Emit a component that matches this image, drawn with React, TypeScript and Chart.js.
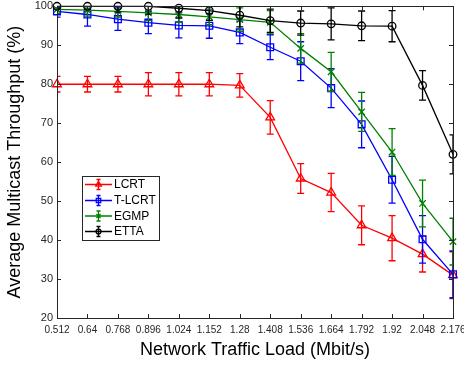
import React, { useEffect, useRef } from "react";
import { Chart, registerables } from "chart.js";

Chart.register(...registerables);

const FONT = "'Liberation Sans', Arial, Helvetica, sans-serif";

const loads = [0.512, 0.64, 0.768, 0.896, 1.024, 1.152, 1.28, 1.408, 1.536, 1.664, 1.792, 1.92, 2.048, 2.176];
const xTickLabels = ["0.512", "0.64", "0.768", "0.896", "1.024", "1.152", "1.28", "1.408", "1.536", "1.664", "1.792", "1.92", "2.048", "2.176"];
const yTickValues = [20, 30, 40, 50, 60, 70, 80, 90, 100];

const lcrt = [80.0, 80.0, 80.0, 80.0, 80.0, 80.0, 79.7, 71.5, 55.8, 52.2, 43.8, 40.5, 36.4, 31.0];
const lcrtErr = [2.0, 2.0, 2.0, 3.0, 3.0, 3.0, 3.0, 4.3, 3.8, 4.9, 5.0, 5.8, 4.6, 6.0];
const tlcrt = [98.7, 97.9, 96.7, 95.8, 95.1, 95.0, 93.3, 89.5, 85.9, 79.0, 69.7, 55.5, 40.2, 31.2];
const tlcrtErr = [1.5, 3.0, 2.9, 2.8, 3.2, 3.2, 2.9, 3.2, 5.0, 5.0, 6.0, 6.0, 6.1, 6.0];
const egmp = [99.2, 99.0, 98.7, 98.3, 97.9, 97.3, 96.6, 95.9, 89.2, 83.2, 72.9, 62.6, 49.4, 39.6];
const egmpErr = [1.0, 1.5, 1.5, 2.0, 2.0, 2.0, 3.0, 3.0, 3.8, 5.0, 5.0, 6.0, 6.0, 6.0];
const etta = [100, 100, 100, 100, 99.5, 98.9, 97.7, 96.3, 95.7, 95.5, 95.0, 94.9, 79.7, 62.0];
const ettaErr = [0.5, 0.8, 1.5, 2.0, 2.5, 2.5, 3.0, 3.0, 3.1, 4.1, 3.8, 4.0, 3.8, 5.0];

const seriesNames = ["LCRT", "T-LCRT", "EGMP", "ETTA"];
const seriesColors = ["#ff0000", "#0000ff", "#008000", "#000000"];
const seriesStyles = ["triangle", "rect", "crossRot", "circle"];
const seriesRadius = [5, 4.8, 4.5, 3.8];
const seriesValues = [lcrt, tlcrt, egmp, etta];
const seriesErrors = [lcrtErr, tlcrtErr, egmpErr, ettaErr];

const xTitle = "Network Traffic Load (Mbit/s)";
const yTitle = "Average Multicast Throughput (%)";

const LW = 1.3;
const AXIS_COLOR = "#262626";

function drawMarker(ctx: CanvasRenderingContext2D, style: string, x: number, y: number, r: number) {
  ctx.beginPath();
  if (style === "triangle") {
    ctx.moveTo(x, y - r);
    ctx.lineTo(x + r * 0.866, y + r * 0.5);
    ctx.lineTo(x - r * 0.866, y + r * 0.5);
    ctx.closePath();
  } else if (style === "rect") {
    const s = r * Math.SQRT1_2;
    ctx.rect(x - s, y - s, 2 * s, 2 * s);
  } else if (style === "crossRot") {
    const s = r * Math.SQRT1_2;
    ctx.moveTo(x - s, y - s);
    ctx.lineTo(x + s, y + s);
    ctx.moveTo(x - s, y + s);
    ctx.lineTo(x + s, y - s);
  } else {
    ctx.arc(x, y, r, 0, Math.PI * 2);
  }
  ctx.stroke();
}

const errorBarPlugin = {
  id: "errorBars",
  afterDatasetDraw(chart: any, args: any) {
    const i = args.index;
    const ctx: CanvasRenderingContext2D = chart.ctx;
    const xs = chart.scales.x;
    const ys = chart.scales.y;
    const area = chart.chartArea;
    ctx.save();
    ctx.beginPath();
    ctx.rect(area.left, area.top, area.right - area.left, area.bottom - area.top);
    ctx.clip();
    ctx.strokeStyle = seriesColors[i];
    ctx.lineWidth = LW;
    const vals = seriesValues[i];
    const errs = seriesErrors[i];
    const cap = 3.5;
    for (let k = 0; k < vals.length; k++) {
      const x = xs.getPixelForValue(loads[k]);
      const y1 = ys.getPixelForValue(vals[k] + errs[k]);
      const y2 = ys.getPixelForValue(vals[k] - errs[k]);
      ctx.beginPath();
      ctx.moveTo(x, y1);
      ctx.lineTo(x, y2);
      ctx.moveTo(x - cap, y1);
      ctx.lineTo(x + cap, y1);
      ctx.moveTo(x - cap, y2);
      ctx.lineTo(x + cap, y2);
      ctx.stroke();
    }
    ctx.restore();
  },
};

const framePlugin = {
  id: "frame",
  afterDraw(chart: any) {
    const ctx: CanvasRenderingContext2D = chart.ctx;
    const { left, right, top, bottom } = chart.chartArea;
    const xs = chart.scales.x;
    const ys = chart.scales.y;
    ctx.save();
    ctx.strokeStyle = AXIS_COLOR;
    ctx.lineWidth = 1;
    ctx.strokeRect(Math.round(left) + 0.5, Math.round(top) + 0.5, Math.round(right - left), Math.round(bottom - top));
    const tl = 4;
    ctx.beginPath();
    for (const v of loads) {
      const x = Math.round(xs.getPixelForValue(v)) + 0.5;
      ctx.moveTo(x, bottom);
      ctx.lineTo(x, bottom - tl);
      ctx.moveTo(x, top);
      ctx.lineTo(x, top + tl);
    }
    for (const v of yTickValues) {
      const y = Math.round(ys.getPixelForValue(v)) + 0.5;
      ctx.moveTo(left, y);
      ctx.lineTo(left + tl, y);
      ctx.moveTo(right, y);
      ctx.lineTo(right - tl, y);
    }
    ctx.stroke();

    // axis titles
    ctx.fillStyle = "#000";
    ctx.font = `18px ${FONT}`;
    ctx.textAlign = "center";
    ctx.textBaseline = "middle";
    ctx.fillText(xTitle, (left + right) / 2, 350);
    ctx.save();
    ctx.translate(15, (top + bottom) / 2);
    ctx.rotate(-Math.PI / 2);
    ctx.fillText(yTitle, 0, 0);
    ctx.restore();

    // legend
    const lx = 82.5, ly = 176.5, lw = 77, lh = 64;
    ctx.fillStyle = "#fff";
    ctx.fillRect(lx, ly, lw, lh);
    ctx.strokeStyle = AXIS_COLOR;
    ctx.lineWidth = 1;
    ctx.strokeRect(lx, ly, lw, lh);
    const rowY = [184.5, 200.5, 216, 231.5];
    ctx.font = `12px ${FONT}`;
    ctx.textAlign = "left";
    ctx.textBaseline = "middle";
    for (let i = 0; i < 4; i++) {
      const y = rowY[i];
      ctx.strokeStyle = seriesColors[i];
      ctx.lineWidth = LW;
      ctx.beginPath();
      ctx.moveTo(85, y);
      ctx.lineTo(112, y);
      ctx.moveTo(98.5, y - 5);
      ctx.lineTo(98.5, y + 5);
      ctx.moveTo(96.5, y - 5);
      ctx.lineTo(100.5, y - 5);
      ctx.moveTo(96.5, y + 5);
      ctx.lineTo(100.5, y + 5);
      ctx.stroke();
      drawMarker(ctx, seriesStyles[i], 98.5, y, seriesRadius[i] * 0.65);
      ctx.fillStyle = "#000";
      ctx.fillText(seriesNames[i], 114, y + 0.5);
    }
    ctx.restore();
  },
};

export default function App() {
  const ref = useRef<HTMLCanvasElement>(null);
  useEffect(() => {
    const datasets = seriesNames.map((name, i) => ({
      label: name,
      data: loads.map((x, k) => ({ x, y: seriesValues[i][k] })),
      borderColor: seriesColors[i],
      backgroundColor: "rgba(0,0,0,0)",
      borderWidth: LW,
      pointStyle: seriesStyles[i],
      pointRadius: seriesRadius[i],
      pointBorderColor: seriesColors[i],
      pointBackgroundColor: "rgba(0,0,0,0)",
      pointBorderWidth: LW,
      tension: 0,
      fill: false,
      clip: false,
      order: 3 - i,
    }));
    const chart = new Chart(ref.current as HTMLCanvasElement, {
      type: "line",
      data: { datasets },
      options: {
        animation: false,
        responsive: false,
        devicePixelRatio: 1,
        layout: { padding: { left: 0, right: 11, top: 6, bottom: 0 } },
        plugins: { legend: { display: false }, tooltip: { enabled: false } },
        scales: {
          x: {
            type: "linear",
            min: 0.512,
            max: 2.176,
            grid: { display: false, drawTicks: false },
            border: { display: false },
            ticks: {
              autoSkip: false,
              maxRotation: 0,
              minRotation: 0,
              padding: 6,
              color: AXIS_COLOR,
              font: { family: FONT, size: 10 },
              callback: (_v: any, idx: number) => xTickLabels[idx],
            },
            afterBuildTicks: (scale: any) => {
              scale.ticks = loads.map((v) => ({ value: v }));
            },
            afterFit: (scale: any) => {
              scale.height = 47;
              scale.paddingLeft = 0;
              scale.paddingRight = 0;
            },
          },
          y: {
            min: 20,
            max: 100,
            grid: { display: false, drawTicks: false },
            border: { display: false },
            ticks: {
              padding: 4,
              color: AXIS_COLOR,
              font: { family: FONT, size: 11 },
            },
            afterBuildTicks: (scale: any) => {
              scale.ticks = yTickValues.map((v) => ({ value: v }));
            },
            afterFit: (scale: any) => {
              scale.width = 57;
              scale.paddingTop = 0;
              scale.paddingBottom = 0;
            },
          },
        },
      } as any,
      plugins: [errorBarPlugin, framePlugin],
    });
    return () => chart.destroy();
  }, []);
  return (
    <div style={{ position: "absolute", left: 0, top: 0, width: 464, height: 365, background: "#fff" }}>
      <canvas ref={ref} width={464} height={365} style={{ display: "block", width: 464, height: 365 }} />
    </div>
  );
}
